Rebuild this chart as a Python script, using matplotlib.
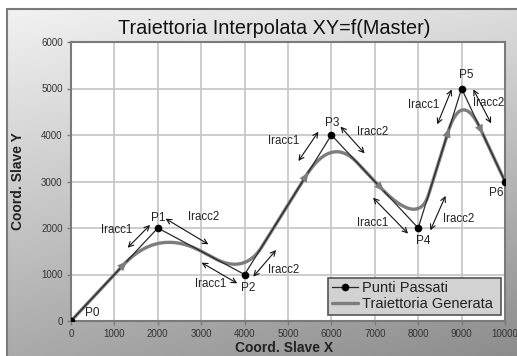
import numpy as np
import matplotlib
matplotlib.use("Agg")
import matplotlib.pyplot as plt
from matplotlib.patches import Rectangle

plt.rcParams['font.family'] = ['Liberation Sans', 'DejaVu Sans']

# Waypoints passed through by the slave axes
point_names = ["P0", "P1", "P2", "P3", "P4", "P5", "P6"]
slave_x = [0, 2000, 4000, 6000, 8000, 9000, 10000]
slave_y = [0, 2000, 1000, 4000, 2000, 5000, 3000]

# Blend lengths at each intermediate waypoint (fraction of incoming / outgoing segment)
blend_in = [0.40, 0.35, 0.30, 0.46, 0.32]
blend_out = [0.50, 0.20, 0.30, 0.24, 0.44]

x_ticks = [0, 1000, 2000, 3000, 4000, 5000, 6000, 7000, 8000, 9000, 10000]
y_ticks = [0, 1000, 2000, 3000, 4000, 5000, 6000]

# Direction arrows on the generated trajectory (x positions)
direction_x = [950, 5230, 7120, 8570, 9700]


def blended_path(px, py, fin, fout, n=80):
    pts = [np.array([px[0], py[0]], float)]
    for i in range(1, len(px) - 1):
        v = np.array([px[i], py[i]], float)
        prev = np.array([px[i - 1], py[i - 1]], float)
        nxt = np.array([px[i + 1], py[i + 1]], float)
        a = v + fin[i - 1] * (prev - v)
        b = v + fout[i - 1] * (nxt - v)
        t = np.linspace(0, 1, n)[:, None]
        bez = (1 - t) ** 2 * a + 2 * (1 - t) * t * v + t ** 2 * b
        pts.extend(list(bez))
    pts.append(np.array([px[-1], py[-1]], float))
    pts = np.array(pts)
    return pts[:, 0], pts[:, 1]


W, H = 517, 356
fig = plt.figure(figsize=(W / 100, H / 100), dpi=100)
fig.patch.set_facecolor("white")

# Gradient chart-area background
bg = fig.add_axes([0, 0, 1, 1], zorder=-10)
u = np.linspace(0, 1, 200)[None, :]
v = np.linspace(0, 1, 200)[:, None]
g = (242 - 22 * u - 72 * v - 8 * u * v) / 255.0
img = np.dstack([g, g, g])
x0f, y0f = 7 / W, 0
x1f, y1f = 1.02, 1 - 9 / H
bg.imshow(img, extent=[x0f, x1f, y0f, y1f], aspect="auto", origin="upper")
bg.add_patch(Rectangle((x0f, y0f - 0.05), x1f - x0f, y1f - y0f + 0.05,
                       fill=False, edgecolor="#7a7a7a", lw=1.5))
bg.set_xlim(0, 1)
bg.set_ylim(0, 1)
bg.axis("off")

ax = fig.add_axes([71 / W, (H - 321) / H, 434 / W, 279 / H])
ax.set_facecolor("white")

ax.set_xlim(0, 10000)
ax.set_ylim(0, 6000)
ax.set_xticks(x_ticks)
ax.set_yticks(y_ticks)
ax.grid(True, color="#c8c8c8", lw=1.3)
ax.set_axisbelow(True)
for s in ax.spines.values():
    s.set_color("#7a7a7a")
    s.set_linewidth(1.5)
ax.tick_params(direction="out", length=3, width=1, color="#7a7a7a",
               labelsize=7, labelcolor="#333333", pad=3)

# Generated trajectory
tx, ty = blended_path(slave_x, slave_y, blend_in, blend_out)
traj_color = "#7d7d7d"
ax.plot(tx, ty, color=traj_color, lw=2.4, solid_capstyle="round",
        label="Traiettoria Generata", zorder=3)

# Waypoint polyline
ax.plot(slave_x, slave_y, color="#2a2a2a", lw=0.9, marker="o", ms=4.5,
        mfc="black", mec="black", label="Punti Passati", zorder=4)

# Direction arrows along the trajectory
d = np.hypot(np.diff(tx), np.diff(ty))
s_arc = np.concatenate([[0], np.cumsum(d)])
for xa in direction_x:
    i = np.argmin(np.abs(tx - xa))
    s0 = s_arc[i]
    xb = np.interp(s0 - 120, s_arc, tx)
    yb = np.interp(s0 - 120, s_arc, ty)
    xf = np.interp(s0 + 120, s_arc, tx)
    yf = np.interp(s0 + 120, s_arc, ty)
    ax.annotate("", xy=(xf, yf), xytext=(xb, yb),
                arrowprops=dict(arrowstyle="-|>,head_length=0.7,head_width=0.3",
                                color=traj_color, lw=0, shrinkA=0, shrinkB=0),
                zorder=5)

# Waypoint labels
label_pos = [(480, 170), (2000, 2225), (4080, 710), (6010, 4260),
             (8125, 1720), (9100, 5290), (9800, 2750)]
for name, (lx, ly) in zip(point_names, label_pos):
    ax.text(lx, ly, name, fontsize=8.5, color="#222222", ha="center", va="center", zorder=6)

# Blend-length indicators
blend_arrows = [
    ((1306, 1576), (1820, 2065), "Iracc1", (1040, 1960)),
    ((2180, 2200), (3165, 1650), "Iracc2", (3045, 2235)),
    ((3010, 1255), (3830, 810), "Iracc1", (3220, 790)),
    ((4200, 955), (4725, 1525), "Iracc2", (4900, 1100)),
    ((5240, 3440), (5700, 4070), "Iracc1", (4890, 3880)),
    ((6210, 4180), (6765, 3605), "Iracc2", (6960, 4070)),
    ((6960, 2650), (7765, 1880), "Iracc1", (6960, 2115)),
    ((8280, 1950), (8630, 2690), "Iracc2", (8920, 2200)),
    ((8440, 4230), (8770, 4980), "Iracc1", (8120, 4645)),
    ((9270, 4980), (9680, 4250), "Iracc2", (9615, 4680)),
]
for p0, p1, txt, lp in blend_arrows:
    ax.annotate("", xy=p1, xytext=p0,
                arrowprops=dict(arrowstyle="<->,head_length=0.35,head_width=0.18",
                                color="#111111", lw=0.8, shrinkA=0, shrinkB=0),
                zorder=6)
    ax.text(lp[0], lp[1], txt, fontsize=8.3, color="#222222",
            ha="center", va="center", zorder=6)

# Legend
handles, labels = ax.get_legend_handles_labels()
leg = ax.legend(handles[::-1], labels[::-1], loc="lower left",
                bbox_to_anchor=(0.592, 0.0215, 0.399, 0.158), mode="expand",
                fontsize=10.5, frameon=True, fancybox=False, borderaxespad=0,
                handlelength=1.8, handletextpad=0.3, labelspacing=0.15,
                borderpad=0.25)
leg.get_frame().set_facecolor("#d2d2d2")
leg.get_frame().set_edgecolor("#555555")
leg.get_frame().set_linewidth(1.2)
leg.get_frame().set_alpha(1)
for t in leg.get_texts():
    t.set_color("#222222")
leg.set_zorder(10)

fig.text(274 / W, 1 - 29 / H, "Traiettoria Interpolata XY=f(Master)",
         fontsize=14.3, ha="center", va="center", color="#111111")
ax.set_xlabel("Coord. Slave X", fontsize=10, fontweight="bold", color="#222222", labelpad=0)
ax.xaxis.set_label_coords((284 - 71) / 434, (321 - 341) / 279)
ax.set_ylabel("Coord. Slave Y", fontsize=10, fontweight="bold", color="#222222")
ax.yaxis.set_label_coords((25 - 71) / 434, 0.5)

fig.savefig("out.png", dpi=100)
